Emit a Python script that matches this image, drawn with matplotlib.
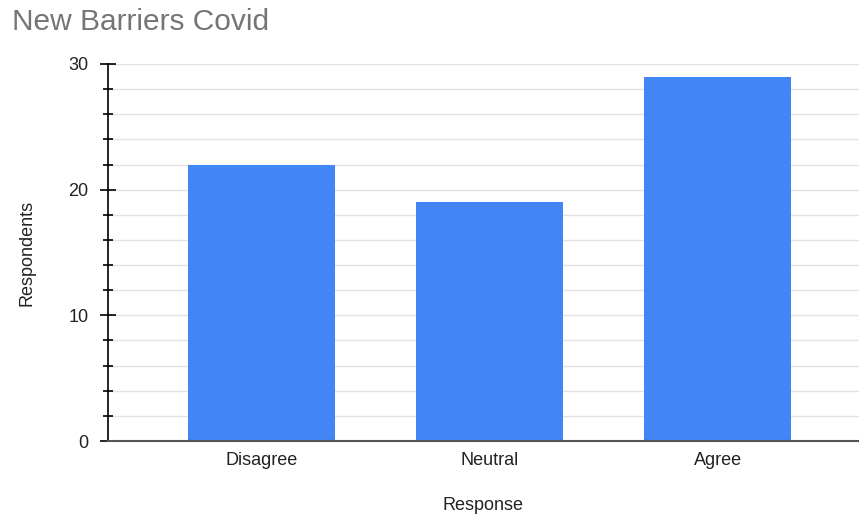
import matplotlib
matplotlib.use('Agg')
import matplotlib.pyplot as plt
import numpy as np

plt.rcParams['font.family'] = ['Liberation Sans', 'DejaVu Sans']

responses = ['Disagree', 'Neutral', 'Agree']
respondents = [22, 19, 29]

fig = plt.figure(figsize=(8.59, 5.16), dpi=100)
ax = fig.add_axes([0.1257, 0.1453, 0.8743, 0.7307])

x = np.arange(len(responses))
ax.bar(x, respondents, width=0.645, color='#4285f4', zorder=3)

ax.set_xlim(-0.673, 2.62)
ax.set_ylim(0, 30)
ax.set_xticks(x)
ax.set_xticklabels(responses, fontsize=13, color='#222222')
ax.set_yticks([0, 10, 20, 30])
ax.set_yticks(np.arange(0, 31, 2), minor=True)
ax.tick_params(axis='y', which='major', direction='inout', length=12, width=1.2,
               labelsize=13, labelcolor='#222222', pad=8)
ax.tick_params(axis='y', which='minor', direction='inout', length=7, width=1.2)
ax.tick_params(axis='x', length=0, pad=8)

ax.grid(axis='y', which='both', color='#e3e3e3', linewidth=1, zorder=0)

for s in ['top', 'right']:
    ax.spines[s].set_visible(False)
ax.spines['left'].set_color('black')
ax.spines['left'].set_linewidth(1.2)
ax.spines['bottom'].set_color('#555555')
ax.spines['bottom'].set_linewidth(1.5)
ax.spines['bottom'].set_zorder(4)

ax.set_xlabel('Response', fontsize=13, color='#222222', labelpad=20)
ax.set_ylabel('Respondents', fontsize=13, color='#222222', labelpad=24)

fig.text(0.014, 0.958, 'New Barriers Covid', fontsize=21.5, color='#757575',
         ha='left', va='center')

fig.savefig('out.png', dpi=100)
